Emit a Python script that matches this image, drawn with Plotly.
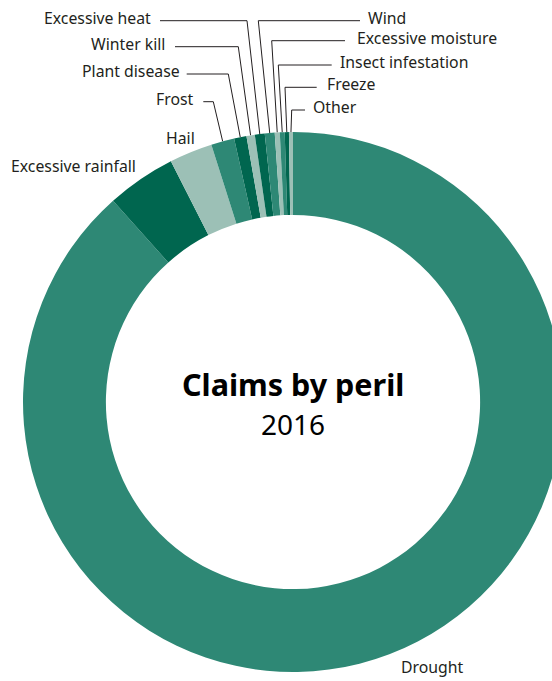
import math
import plotly.graph_objects as go

# ---- data ----
perils = ["Drought", "Excessive rainfall", "Hail", "Frost", "Plant disease",
          "Winter kill", "Excessive heat", "Wind", "Excessive moisture",
          "Insect infestation", "Freeze", "Other"]
shares = [88.4, 4.14, 2.58, 1.39, 0.74, 0.50, 0.59, 0.59, 0.30, 0.29, 0.25, 0.24]

MED, DARK, LIGHT = "#2e8875", "#00664f", "#9cc0b6"
colors = [MED, DARK, LIGHT, MED, DARK, LIGHT, DARK, MED, LIGHT, MED, DARK, LIGHT]

# ---- layout geometry (pixels) ----
W, H = 586, 681
CX, CY, R = 293, 402, 270
TXT = "#231f20"
FONT = "Noto Sans"
LBL = 15.8

fig = go.Figure()

fig.add_trace(go.Pie(
    labels=perils, values=shares, sort=False, direction="clockwise", rotation=0,
    hole=0.693, textinfo="none", hoverinfo="label+percent",
    marker=dict(colors=colors, line=dict(width=0)),
    domain=dict(x=[0, 1], y=[(H - (CY + R)) / H, (H - (CY - R)) / H]),
    showlegend=False,
))

# slice mid-angle end points (clockwise from 12 o'clock)
total = sum(shares)
ends = {}
cum = 0
for name, v in zip(perils, shares):
    mid = (cum + v / 2) / total * 2 * math.pi
    ends[name] = (CX + R * math.sin(mid), CY - R * math.cos(mid))
    cum += v

# label placement: (text x, anchor, line y, line start x, elbow x)
leaders = {
    "Excessive heat": (153, "right", 20.7, 160, 247),
    "Winter kill": (167, "right", 46.7, 175, 238.3),
    "Plant disease": (182, "right", 74, 186.7, 228.3),
    "Frost": (196, "right", 101.7, 203.3, 213.3),
    "Wind": (366, "left", 20.7, 360, 258.3),
    "Excessive moisture": (355, "left", 40.7, 345, 271.7),
    "Insect infestation": (338, "left", 65, 331.7, 278.3),
    "Freeze": (325, "left", 87.3, 316.7, 285),
    "Other": (311, "left", 110, 305, 291.7),
}

for name, (tx, anc, ly, x0, xe) in leaders.items():
    ex, ey = ends[name]
    fig.add_trace(go.Scatter(
        x=[x0, xe, ex], y=[ly, ly, ey], mode="lines",
        line=dict(color=TXT, width=1), hoverinfo="skip", showlegend=False))
    fig.add_annotation(x=tx, y=ly - 3, text=name, showarrow=False,
                       xanchor=anc, yanchor="middle",
                       font=dict(family=FONT, size=LBL, color=TXT))

free_labels = {
    "Hail": (164, 138, "left"),
    "Excessive rainfall": (9, 166, "left"),
    "Drought": (399, 667, "left"),
}
for name, (tx, ty, anc) in free_labels.items():
    fig.add_annotation(x=tx, y=ty, text=name, showarrow=False,
                       xanchor=anc, yanchor="middle",
                       font=dict(family=FONT, size=LBL, color=TXT))

fig.add_annotation(x=CX, y=384, text="<b>Claims by peril</b>", showarrow=False,
                   xanchor="center", yanchor="middle",
                   font=dict(family=FONT, size=30.5, color="#000000"))
fig.add_annotation(x=CX, y=424, text="2016", showarrow=False,
                   xanchor="center", yanchor="middle",
                   font=dict(family=FONT, size=28, color="#000000"))

fig.update_layout(
    width=W, height=H, autosize=False,
    margin=dict(l=0, r=0, t=0, b=0),
    paper_bgcolor="white", plot_bgcolor="white",
    xaxis=dict(range=[0, W], visible=False, domain=[0, 1], fixedrange=True),
    yaxis=dict(range=[H, 0], visible=False, domain=[0, 1], fixedrange=True),
)

fig.write_html("out.html")
